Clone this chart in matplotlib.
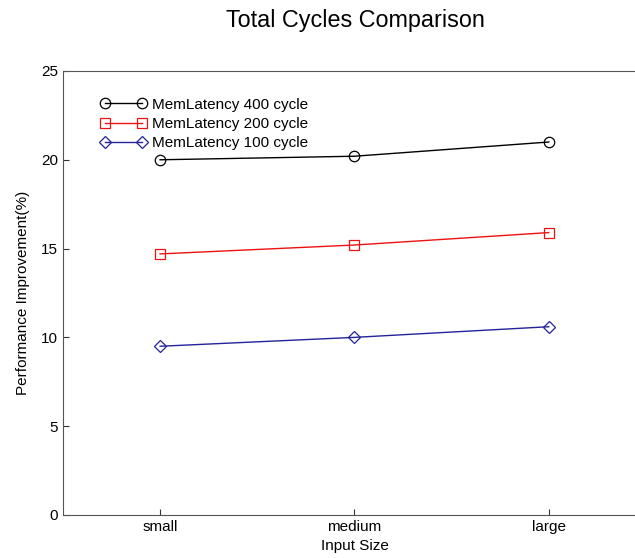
import matplotlib
matplotlib.use('Agg')
import matplotlib.pyplot as plt

# data
sizes = ['small', 'medium', 'large']
lat400 = [20.0, 20.2, 21.0]
lat200 = [14.7, 15.2, 15.9]
lat100 = [9.5, 10.0, 10.6]

plt.rcParams['font.family'] = ['Liberation Sans', 'DejaVu Sans']

fig = plt.figure(figsize=(6.35, 5.58), dpi=100)
ax = fig.add_axes([0.0992, 0.0771, 0.918, 0.7957])

x = [1, 2, 3]
ax.plot(x, lat400, color='black', lw=1, marker='o', ms=7.5, mfc='none', mew=0.9,
        label='MemLatency 400 cycle')
ax.plot(x, lat200, color='#ee1111', lw=1, marker='s', ms=7, mfc='none', mew=0.9,
        label='MemLatency 200 cycle')
ax.plot(x, lat100, color='#22229a', lw=1, marker='D', ms=6.5, mfc='none', mew=0.9,
        label='MemLatency 100 cycle')

ax.set_xlim(0.5, 3.5)
ax.set_ylim(0, 25)
ax.set_xticks(x)
ax.set_xticklabels(sizes)
ax.set_yticks([0, 5, 10, 15, 20, 25])
ax.tick_params(direction='in', length=4, labelsize=11, color='#333333')
for s in ax.spines.values():
    s.set_color('#555555')
ax.spines['right'].set_visible(False)

ax.set_xlabel('Input Size', fontsize=11, labelpad=4)
ax.set_ylabel('Performance Improvement(%)', fontsize=11, labelpad=8)
fig.text(0.559, 0.964, 'Total Cycles Comparison', fontsize=16.8, ha='center', va='center')

ax.legend(loc='upper left', bbox_to_anchor=(94.4 / 635, 0.8357),
          bbox_transform=fig.transFigure, frameon=False, numpoints=2,
          handlelength=3.0, handletextpad=0.35, labelspacing=0.35, fontsize=11,
          borderaxespad=0)

plt.savefig('out.png', dpi=100)
